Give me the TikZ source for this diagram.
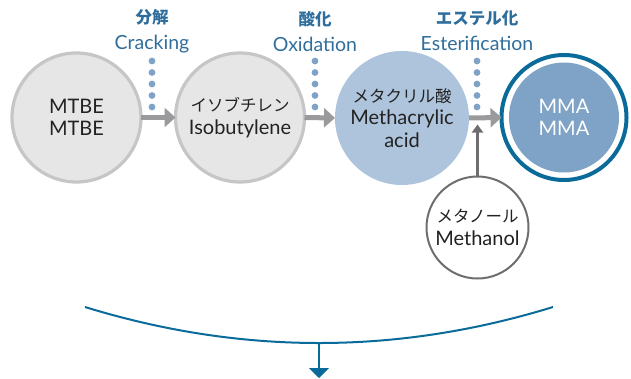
\documentclass[tikz,border=0pt]{standalone}
\usepackage{fontspec}
\setmainfont{Lato}
\newfontfamily\cjk{Noto Sans CJK JP}
\usetikzlibrary{arrows.meta}
\definecolor{ringgray}{HTML}{C6C6C8}
\definecolor{fillgray}{HTML}{E6E6E6}
\definecolor{acidfill}{HTML}{AEC4DC}
\definecolor{mmafill}{HTML}{7FA3C6}
\definecolor{mmaring}{HTML}{0A6B9A}
\definecolor{dotblue}{HTML}{7FA3C6}
\definecolor{labelblue}{HTML}{2F6E9C}
\definecolor{arrowgray}{HTML}{9A9A9C}
\definecolor{darkgray}{HTML}{6E6E70}
\definecolor{textdark}{HTML}{222222}
\newcommand{\jp}[1]{{\cjk\fontsize{16.5}{22.5}\selectfont #1}}
\newcommand{\jpb}[1]{{\cjk\bfseries\fontsize{16.5}{26}\selectfont #1}}
\tikzset{
  x=1pt, y=-1pt,
  every node/.style={inner sep=0pt, outer sep=0pt},
  txt/.style={font=\fontsize{20}{22.5}\selectfont, align=center, text=textdark},
  graycirc/.style={circle, fill=fillgray, draw=ringgray, line width=3.2pt, minimum size=129pt, txt},
  stepname/.style={font=\fontsize{19.5}{26}\selectfont, align=center, text=labelblue},
  grayarrow/.style={draw=arrowgray, line width=5pt, -{Triangle[length=11pt,width=19pt]}},
  dotsty/.style={fill=dotblue},
}
\begin{document}
\begin{tikzpicture}
\useasboundingbox (0,0) rectangle (631,378);
% main circles
\node (mtbe) [graycirc] at (76.5,117.5) {MTBE\\MTBE};
\node (iso) [graycirc] at (240,117.5) {\jp{イソブチレン}\\Isobutylene};
\node (acid) [circle, fill=acidfill, minimum size=134pt, txt] at (402,118) {\jp{メタクリル酸}\\Methacrylic\\acid};
\node (mmaouter) [circle, draw=mmaring, line width=4pt, fill=white, minimum size=125pt] at (564,117.5) {};
\node (mma) [circle, fill=mmafill, minimum size=110pt, txt, text=white] at (564,117.5) {MMA\\MMA};
\node (meoh) [circle, draw=darkgray, line width=2pt, fill=white, minimum size=102pt, txt] at (477.5,227.5) {\jp{メタノール}\\Methanol};
% arrows between circles
\draw[grayarrow] (mtbe.east) -- (iso.west);
\draw[grayarrow] (iso.east) -- (acid.west);
\draw[grayarrow] (acid.east) -- (mmaouter.west);
\coordinate (meohtip) at (477.5,124.5);
\draw[draw=darkgray, line width=2.4pt, -{Triangle[length=8pt,width=11pt]}] (meoh.north) -- (meohtip);
% step labels
\node (s1) [stepname] at (152,31) {\jpb{分解}\\Cracking};
\node (s2) [stepname] at (315,31) {\jpb{酸化}\\Oxidation};
\node (s3) [stepname] at (477,31) {\jpb{エステル化}\\Esterification};
% dotted markers
\foreach \x in {152,315,477}{
  \foreach \y in {61,72.5,84,95.5,107}{
    \fill[dotsty] (\x,\y) circle (3.4pt);
  }
}
% bottom curve and arrow
\coordinate (cl) at (85,307);
\coordinate (cr) at (553,307);
\coordinate (cb) at (319,343);
\coordinate (ctip) at (319,378);
\draw[draw=mmaring, line width=2pt] (cl) .. controls (241,355) and (397,355) .. (cr);
\draw[draw=mmaring, line width=2pt, -{Triangle[length=10pt,width=20pt]}] (cb) -- (ctip);
\end{tikzpicture}
\end{document}
